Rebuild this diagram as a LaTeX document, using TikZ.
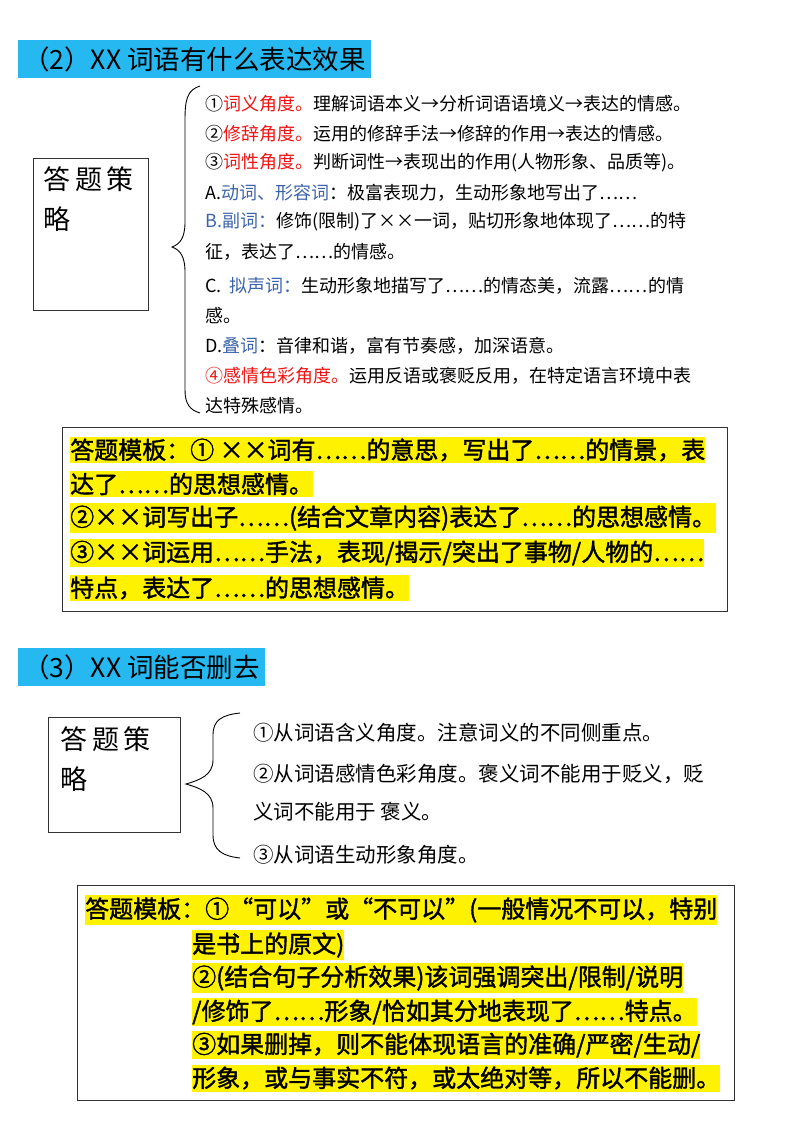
\documentclass[tikz,border=0pt]{standalone}
\usepackage{fontspec}
\setmainfont{Noto Sans CJK SC}
\newfontfamily\cjkb[FakeBold=1.5]{Noto Sans CJK SC}
\begin{document}
\begin{tikzpicture}[x=1pt,y=-1pt,
  title/.style={fill=cyan!85!white,anchor=west,minimum height=38pt,inner xsep=5pt,font=\fontsize{26.5}{28}\selectfont},
  frame/.style={draw=black!80,line width=0.8pt},
  ln/.style={anchor=west,inner sep=0pt,font=\fontsize{18}{20}\selectfont},
  ln2/.style={anchor=west,inner sep=0pt,font=\fontsize{20.5}{23}\selectfont},
  tp/.style={anchor=west,inner ysep=2pt,inner xsep=0pt,fill=yellow,font=\cjkb\fontsize{24}{26}\selectfont},
  br/.style={line width=0.9pt}]
\useasboundingbox (0,0) rectangle (800,1132);
\definecolor{rd}{RGB}{240,20,20}
\definecolor{bl}{RGB}{60,100,170}
% section 2
\node[title] (t1) at (18,59) {（2）XX 词语有什么表达效果};
\draw[frame] (33,158) rectangle (148,310);
\node[anchor=north west,align=left,font=\fontsize{27}{40}\selectfont] (s1) at (40,163) {答\,题\,策\\略};
\draw[br] (200,86) .. controls (187,90) and (185,100) .. (185,120) -- (185,222) .. controls (185,238) and (180,244) .. (172,247) .. controls (180,250) and (185,256) .. (185,272) -- (185,390) .. controls (185,404) and (190,410) .. (200,413);
\node[ln] (a1) at (205,104) {①\textcolor{rd}{词义角度。}理解词语本义→分析词语语境义→表达的情感。};
\node[ln] (a2) at (205,134) {②\textcolor{rd}{修辞角度。}运用的修辞手法→修辞的作用→表达的情感。};
\node[ln] (a3) at (205,163) {③\textcolor{rd}{词性角度。}判断词性→表现出的作用(人物形象、品质等)。};
\node[ln] (a4) at (205,193) {A.\textcolor{bl}{动词、形容词}：极富表现力，生动形象地写出了……};
\node[ln] (a5) at (205,222) {\textcolor{bl}{B.副词：}修饰(限制)了××一词，贴切形象地体现了……的特};
\node[ln] (a6) at (205,252) {征，表达了……的情感。};
\node[ln] (a7) at (205,286) {C.\ \ \textcolor{bl}{拟声词：}生动形象地描写了……的情态美，流露……的情};
\node[ln] (a8) at (205,316) {感。};
\node[ln] (a9) at (205,346) {D.\textcolor{bl}{叠词}：音律和谐，富有节奏感，加深语意。};
\node[ln] (a10) at (205,376) {\textcolor{rd}{④感情色彩角度。}运用反语或褒贬反用，在特定语言环境中表};
\node[ln] (a11) at (205,406) {达特殊感情。};
\draw[frame] (62,427) rectangle (727,611);
\node[tp] (m1) at (70,450) {答题模板：① ××词有……的意思，写出了……的情景，表};
\node[tp] (m2) at (70,484) {达了……的思想感情。};
\node[tp] (m3) at (70,518) {②××词写出子……(结合文章内容)表达了……的思想感情。};
\node[tp] (m4) at (70,553) {③××词运用……手法，表现/揭示/突出了事物/人物的……};
\node[tp] (m5) at (70,588) {特点，表达了……的思想感情。};
% section 3
\node[title] (t2) at (18,667) {（3）XX 词能否删去};
\draw[frame] (48,717) rectangle (180,832);
\node[anchor=north west,align=left,font=\fontsize{27}{40}\selectfont] (s2) at (57,723) {答\,题\,策\\略};
\draw[br] (240,713) .. controls (222,715) and (213,720) .. (213,735) -- (213,760) .. controls (213,775) and (200,780) .. (186,784) .. controls (200,788) and (213,793) .. (213,808) -- (213,835) .. controls (213,850) and (222,856) .. (240,858);
\node[ln2] (b1) at (253,733) {①从词语含义角度。注意词义的不同侧重点。};
\node[ln2] (b2) at (253,774) {②从词语感情色彩角度。褒义词不能用于贬义，贬};
\node[ln2] (b3) at (253,812) {义词不能用于 褒义。};
\node[ln2] (b4) at (253,855) {③从词语生动形象角度。};
\draw[frame] (77,885) rectangle (734,1100);
\node[tp] (n1) at (85,910) {答题模板：①“可以”或“不可以”(一般情况不可以，特别};
\node[tp] (n2) at (192,945) {是书上的原文)};
\node[tp] (n3) at (192,978) {②(结合句子分析效果)该词强调突出/限制/说明};
\node[tp] (n4) at (192,1012) {/修饰了……形象/恰如其分地表现了……特点。};
\node[tp] (n5) at (192,1045) {③如果删掉，则不能体现语言的准确/严密/生动/};
\node[tp] (n6) at (192,1078) {形象，或与事实不符，或太绝对等，所以不能删。};
\end{tikzpicture}
\end{document}
